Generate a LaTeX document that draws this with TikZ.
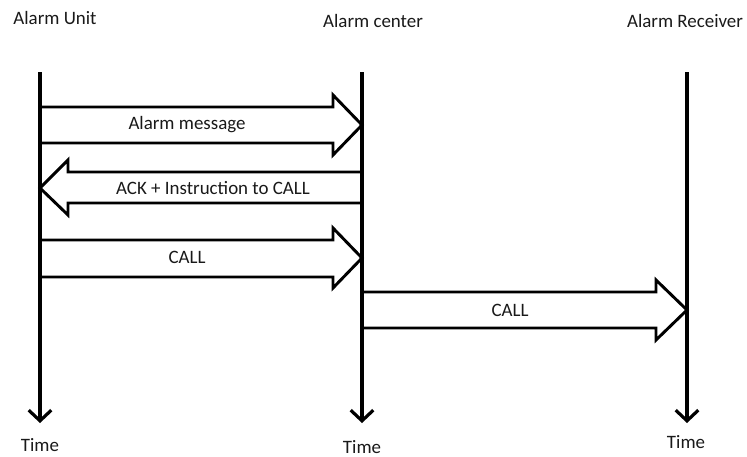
\documentclass[tikz,border=0pt]{standalone}
\usepackage{fontspec}
\setmainfont{Carlito}
\usetikzlibrary{arrows.meta}
\begin{document}
\begin{tikzpicture}[x=0.75pt,y=-0.75pt,
  lbl/.style={font=\fontsize{14.2}{16}\selectfont, inner sep=0pt, text=black!90},
  life/.style={line width=2.4pt, -{Straight Barb[length=8pt,width=17pt,line width=2.4pt]}},
  blk/.style={line width=2.2pt, line join=miter}]
\useasboundingbox (0,0) rectangle (747,457);
% lifeline ends
\coordinate (u0) at (40,72);  \coordinate (u1) at (40,423);
\coordinate (c0) at (362,72); \coordinate (c1) at (362,423);
\coordinate (r0) at (687,72); \coordinate (r1) at (687,423);
% titles
\node[lbl] (tu) at (55,18) {Alarm Unit};
\node[lbl] (tc) at (373,21) {Alarm center};
\node[lbl] (tr) at (685,21) {Alarm Receiver};
% time labels
\node[lbl] (bu) at (40,445) {Time};
\node[lbl] (bc) at (362,447) {Time};
\node[lbl] (br) at (686,442) {Time};
% block arrows
\draw[blk] (40,107) -- (333,107) -- (333,95) -- (362,125) -- (333,155) -- (333,143) -- (40,143);
\node[lbl] (m1) at (187,125) {Alarm message};
\draw[blk] (362,172) -- (68,172) -- (68,160) -- (40,188) -- (68,215) -- (68,203) -- (362,203);
\node[lbl] (m2) at (213,188) {ACK + Instruction to CALL};
\draw[blk] (40,240) -- (333,240) -- (333,228) -- (362,258) -- (333,288) -- (333,277) -- (40,277);
\node[lbl] (m3) at (187,257) {CALL};
\draw[blk] (362,292) -- (656,292) -- (656,280) -- (687,310) -- (656,340) -- (656,328) -- (362,328);
\node[lbl] (m4) at (510,310) {CALL};
% lifelines
\draw[life] (u0) -- (u1);
\draw[life] (c0) -- (c1);
\draw[life] (r0) -- (r1);
\end{tikzpicture}
\end{document}
